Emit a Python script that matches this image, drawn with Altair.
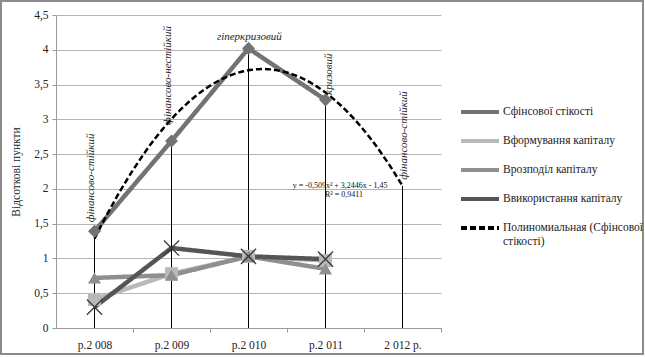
import json
import altair as alt
import pandas as pd

# ---- data ----
years = ["р.2 008", "р.2 009", "р.2 010", "р.2 011", "2 012 р."]
year_idx = [1, 2, 3, 4, 5]

s_names = ["Сфінсової стікості", "Вформування капіталу", "Врозподіл капіталу",
           "Ввикористання  капіталу"]
trend_name = "Полиномиальная (Сфінсової стікості)"

v_sf = [1.39, 2.69, 4.02, 3.28]
v_form = [0.41, 0.78, 1.03, 0.97]
v_rozp = [0.72, 0.76, 1.03, 0.85]
v_vyk = [0.30, 1.15, 1.03, 0.99]

ann_text = ["фінансово-стійкий", "фінансово-нестійкий", "кризовий", "фінансово-стійкий"]
ann_idx = [0.96, 1.95, 4.04, 5.02]
ann_val = [1.52, 2.92, 3.35, 2.13]

top_text = ["гіперкризовий"]
top_idx = [3.01]
top_val = [4.11]

eq_text = ["y = -0,509x² + 3,2446x - 1,45", "R² = 0,9411"]
eq_idx = [4.19, 4.24]
eq_val = [2.04, 1.91]

y_ticks = [0, 0.5, 1, 1.5, 2, 2.5, 3, 3.5, 4, 4.5]

series_values = [v_sf, v_form, v_rozp, v_vyk]
rows = []
for name, vals in zip(s_names, series_values):
    for i, v in zip(year_idx, vals):
        rows.append({"series": name, "idx": i, "val": v})
df = pd.DataFrame(rows)

domain_all = s_names + [trend_name]
colors = ["#737373", "#b9b9b9", "#8f8f8f", "#555555", "#000000"]
dashes = [[1, 0], [1, 0], [1, 0], [1, 0], [6, 3]]

FONT = "Liberation Serif"

labels_js = json.dumps(years, ensure_ascii=False)
x_enc = alt.X(
    "idx:Q",
    scale=alt.Scale(domain=[0.5, 5.5], nice=False, zero=False),
    axis=alt.Axis(
        values=year_idx, labelExpr=f"{labels_js}[datum.value - 1]",
        tickOffset=38.5, labelOffset=-38.5, tickSize=4, tickColor="#999999",
        domainColor="#999999", grid=False, title=None, labelFont=FONT,
        labelFontSize=11.5, labelColor="#222222", labelPadding=7,
        labelOverlap=False,
    ),
)
y_enc = alt.Y(
    "val:Q",
    scale=alt.Scale(domain=[0, 4.5], nice=False),
    axis=alt.Axis(
        values=y_ticks, format="~g",
        labelExpr="replace(datum.label, '.', ',')",
        gridColor="#b5b5b5", gridWidth=1, tickColor="#999999", tickSize=4,
        domainColor="#999999", labelFont=FONT, labelFontSize=11.5,
        labelColor="#222222", labelPadding=4, labelOverlap=False,
        title="Відсоткові пункти", titleFont=FONT, titleFontSize=11.5,
        titleFontWeight="normal", titleColor="#222222", titlePadding=12,
    ),
)

label_expr = (f"datum.label == '{trend_name}' ? "
              "['Полиномиальная  (Сфінсової', 'стікості)'] : datum.label")

color_enc = alt.Color("series:N", scale=alt.Scale(domain=domain_all, range=colors),
                      legend=alt.Legend(title=None, labelExpr=label_expr,
                                        labelFont=FONT))
dash_enc = alt.StrokeDash("series:N", scale=alt.Scale(domain=domain_all, range=dashes),
                          legend=alt.Legend(title=None, labelExpr=label_expr,
                                            labelFont=FONT))

base = alt.Chart(df)

lines = base.mark_line(strokeWidth=4.5).encode(
    x=x_enc, y=y_enc, color=color_enc, strokeDash=dash_enc,
    order=alt.Order("idx:Q"),
)

points = base.transform_filter(
    alt.FieldOneOfPredicate(field="series", oneOf=s_names[:3])
).mark_point(filled=True, opacity=1).encode(
    x=x_enc, y=y_enc,
    color=color_enc,
    shape=alt.Shape("series:N", scale=alt.Scale(domain=s_names[:3],
                    range=["diamond", "square", "triangle-up"]), legend=None),
    size=alt.value(170),
)

crosses = base.transform_filter(
    alt.datum.series == s_names[3]
).mark_point(shape="M-1,-1L1,1M-1,1L1,-1", filled=False, strokeWidth=1.3,
             color="#3a3a3a", size=230, opacity=1).encode(x=x_enc, y=y_enc)

drops = base.transform_filter(alt.datum.series == s_names[0]).mark_rule(
    color="black", strokeWidth=1
).encode(x=x_enc, y=y_enc, y2=alt.datum(0))

trend_base = base.transform_filter(alt.datum.series == s_names[0]).transform_regression(
    "idx", "val", method="poly", order=2, extent=[1, 5]
).transform_calculate(series=f"'{trend_name}'")

trend = trend_base.mark_line(strokeWidth=2.5).encode(
    x=x_enc, y=y_enc, color=color_enc, strokeDash=dash_enc,
)

trend_drop = trend_base.transform_filter("datum.idx > 4.999").mark_rule(
    color="black", strokeWidth=1
).encode(x=x_enc, y=y_enc, y2=alt.datum(0))

ann_df = pd.DataFrame({"t": ann_text, "idx": ann_idx, "val": ann_val})
ann = alt.Chart(ann_df).mark_text(
    angle=270, align="left", baseline="middle", font=FONT, fontStyle="italic",
    fontSize=11, color="#222222"
).encode(x=x_enc, y=y_enc, text="t:N")

top_df = pd.DataFrame({"t": top_text, "idx": top_idx, "val": top_val})
top = alt.Chart(top_df).mark_text(
    align="center", baseline="bottom", font=FONT, fontStyle="italic",
    fontSize=11, color="#222222"
).encode(x=x_enc, y=y_enc, text="t:N")

eq_df = pd.DataFrame({"t": eq_text, "idx": eq_idx, "val": eq_val})
eq = alt.Chart(eq_df).mark_text(
    align="center", baseline="middle", font=FONT, fontSize=8, color="#111111"
).encode(x=x_enc, y=y_enc, text="t:N")

frame = alt.Chart(pd.DataFrame({"a": [0]})).mark_rect(
    fillOpacity=0, stroke="#8c8c8c", strokeWidth=2
).encode(x=alt.value(-55), x2=alt.value(587), y=alt.value(-14), y2=alt.value(339))

chart = alt.layer(
    lines, trend, drops, trend_drop, points, crosses, ann, top, eq, frame
).properties(
    width=385, height=313,
    autosize=alt.AutoSizeParams(type="none"),
    padding={"left": 56, "top": 15, "right": 204, "bottom": 29},
    background="white",
).configure(font=FONT).configure_view(stroke="transparent").configure_legend(
    orient="none", legendX=403, legendY=76, symbolType="stroke",
    symbolSize=1444, symbolStrokeWidth=4, labelFont=FONT, labelFontSize=11.5,
    labelColor="#222222", rowPadding=0, labelLimit=175, labelOffset=2,
)

chart.save("out.html", embed_options={"renderer": "svg", "actions": False})
